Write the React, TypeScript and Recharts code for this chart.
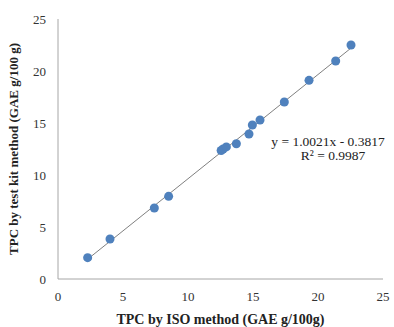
import React from 'react';
import { ScatterChart, Scatter, XAxis, YAxis, ZAxis, Label } from 'recharts';

// TPC values (x: ISO method, y: test kit method)
const isoValues = [2.28, 4.0, 7.41, 8.51, 12.55, 12.7, 12.95, 13.72, 14.69, 14.95, 15.54, 17.41, 19.31, 21.36, 22.54];
const kitValues = [2.05, 3.85, 6.83, 7.95, 12.35, 12.5, 12.7, 13.01, 13.94, 14.81, 15.29, 17.02, 19.1, 20.96, 22.5];

const axisTicks = [0, 5, 10, 15, 20, 25];

// linear trendline
const slope = 1.0021;
const intercept = -0.3817;
const rSquared = '0.9987';

const points = isoValues.map((x, i) => ({ x, y: kitValues[i] }));
const xMin = Math.min(...isoValues);
const xMax = Math.max(...isoValues);
const trend = [
  { x: xMin, y: slope * xMin + intercept },
  { x: xMax, y: slope * xMax + intercept }
];

const FONT = '"Liberation Serif", "Times New Roman", serif';
const tickStyle = { fontFamily: FONT, fontSize: 13, fill: '#333' };

const App = () => {
  return (
    <div style={{ position: 'absolute', left: 0, top: 0, width: 394, height: 327, background: '#fff' }}>
      <ScatterChart width={394} height={327} margin={{ top: 19, right: 11, bottom: 0, left: 0 }}>
        <XAxis
          type="number"
          dataKey="x"
          domain={[0, 25]}
          ticks={axisTicks}
          tickLine={false}
          tickSize={0}
          tickMargin={13}
          height={48}
          tick={tickStyle}
          axisLine={{ stroke: '#a6a6a6' }}
        >
          <Label
            value="TPC by ISO method (GAE g/100g)"
            position="insideBottom"
            offset={3}
            style={{ fontFamily: FONT, fontSize: 14, fontWeight: 'bold', fill: '#222' }}
          />
        </XAxis>
        <YAxis
          type="number"
          dataKey="y"
          domain={[0, 25]}
          ticks={axisTicks}
          tickLine={false}
          tickSize={0}
          tickMargin={12}
          width={58}
          tick={tickStyle}
          axisLine={{ stroke: '#a6a6a6' }}
        >
          <Label
            value="TPC  by test kit method (GAE g/100 g)"
            angle={-90}
            position="insideLeft"
            offset={13}
            textAnchor="middle"
            style={{ fontFamily: FONT, fontSize: 13, fontWeight: 'bold', fill: '#222', whiteSpace: 'pre' }}
          />
        </YAxis>
        <ZAxis range={[95, 95]} />
        <Scatter
          data={trend}
          line={{ stroke: '#808080', strokeWidth: 1 }}
          shape={() => null}
          isAnimationActive={false}
        />
        <Scatter data={points} fill="#4f81bd" shape="circle" isAnimationActive={false} />
      </ScatterChart>
      <div
        style={{
          position: 'absolute',
          left: 264,
          top: 135,
          width: 128,
          textAlign: 'center',
          fontFamily: FONT,
          fontSize: 13.5,
          lineHeight: '14px',
          color: '#222'
        }}
      >
        <div>{`y = ${slope}x - ${Math.abs(intercept)}`}</div>
        <div style={{ paddingLeft: 10 }}>
          R² = {rSquared}
        </div>
      </div>
    </div>
  );
};

export default App;
